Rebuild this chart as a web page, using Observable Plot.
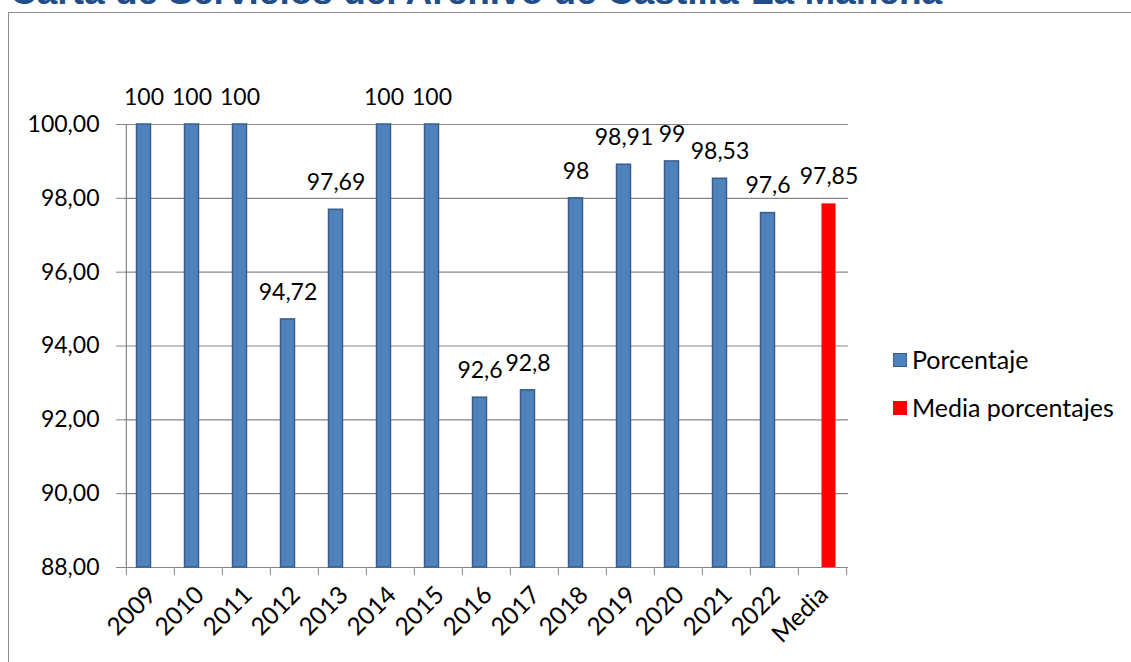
<!DOCTYPE html>
<html>
<head>
<meta charset="utf-8">
<script src="https://cdn.jsdelivr.net/npm/d3@7"></script>
<script src="https://cdn.jsdelivr.net/npm/@observablehq/plot@0.6"></script>
<style>
  html, body { margin: 0; padding: 0; background: #fff; }
  body { width: 1131px; height: 662px; position: relative; overflow: hidden; font-family: Lato, "Noto Sans", sans-serif; }
  #frame { position: absolute; left: 8px; top: 12px; width: 1300px; height: 800px; border: 1.5px solid #8c8c8c; box-sizing: border-box; }
  #title { position: absolute; left: 10px; top: -27px; font-family: "Liberation Sans", Arial, sans-serif; font-weight: bold; font-size: 37px; line-height: 37px; color: #1f4e8a; white-space: nowrap; }
  #chart { position: absolute; left: 0; top: 0; }
  .leg { position: absolute; left: 893px; font-size: 25px; color: #000; line-height: 25px; display: flex; align-items: center; white-space: nowrap; }
  .sw { width: 14px; height: 14px; margin-right: 5px; box-sizing: border-box; }
</style>
</head>
<body>
<div id="frame"></div>
<div id="title">Carta de Servicios del Archivo de Castilla-La Mancha</div>
<div id="chart"></div>
<div class="leg" style="top:347px"><div class="sw" style="background:#4f81bd;border:1.5px solid #385d8a"></div>Porcentaje</div>
<div class="leg" style="top:395px"><div class="sw" style="background:#ff0000"></div>Media porcentajes</div>
<script>
const categories = ["2009","2010","2011","2012","2013","2014","2015","2016","2017","2018","2019","2020","2021","2022","Media"];
const years = ["2009","2010","2011","2012","2013","2014","2015","2016","2017","2018","2019","2020","2021","2022"];
const porcentaje = [100, 100, 100, 94.72, 97.69, 100, 100, 92.6, 92.8, 98, 98.91, 99, 98.53, 97.6];
const mediaCategory = ["Media"];
const mediaPorcentajes = [97.85];
const yTicks = [88, 90, 92, 94, 96, 98, 100];
const yDomain = [88, 100];

const W = 1131, H = 662, ML = 124, MR = 283, MT = 124, MB = 95;
const step = (W - ML - MR) / categories.length;

const blue = years.map((c, i) => ({cat: c, v: porcentaje[i]}));
const red = mediaCategory.map((c, i) => ({cat: c, v: mediaPorcentajes[i]}));
const fmtVal = d => String(d).replace(".", ",");
const fmtTick = d => d.toFixed(2).replace(".", ",");
const gray = "#868686";
const FS = 23;

const plot = Plot.plot({
  width: W, height: H,
  marginLeft: ML, marginRight: MR, marginTop: MT, marginBottom: MB,
  style: {background: "transparent", fontFamily: "Lato, 'Noto Sans', sans-serif", overflow: "visible"},
  x: {type: "band", domain: categories, paddingInner: 0.71, paddingOuter: 0.355, axis: null},
  y: {domain: yDomain, clamp: true, axis: null},
  marks: [
    Plot.ruleY(yTicks, {y: d => d, stroke: gray, strokeWidth: 1.2}),
    Plot.axisY({ticks: yTicks, tickSize: 8, tickPadding: 17, tickFormat: fmtTick, fontSize: FS, stroke: gray, fill: "black", label: null}),
    Plot.ruleX([categories[0]], {x: d => d, dx: -step / 2, stroke: gray, strokeWidth: 1.2}),
    Plot.axisX({ticks: categories, tickSize: 8, tickFormat: () => "", dx: -step / 2, stroke: gray, label: null}),
    Plot.axisX({ticks: [categories[categories.length - 1]], tickSize: 8, tickFormat: () => "", dx: step / 2, stroke: gray, label: null}),
    Plot.barY(blue, {x: "cat", y1: yDomain[0], y2: "v", fill: "#4f81bd", stroke: "#385d8a", strokeWidth: 1.5, dx: -6.5}),
    Plot.barY(red, {x: "cat", y1: yDomain[0], y2: "v", fill: "#ff0000", dx: 6.5}),
    Plot.text(blue, {x: "cat", y: "v", text: d => fmtVal(d.v), dx: -6.5, dy: -27, fontSize: FS, fill: "black"}),
    Plot.text(red, {x: "cat", y: "v", text: d => fmtVal(d.v), dx: 6.5, dy: -27, fontSize: FS, fill: "black"}),
    Plot.text(categories, {x: d => d, frameAnchor: "bottom", text: d => d, rotate: -45, textAnchor: "end", dx: 7, dy: 29, fontSize: 24.5, fill: "black"})
  ]
});
document.getElementById("chart").appendChild(plot);
</script>
</body>
</html>
